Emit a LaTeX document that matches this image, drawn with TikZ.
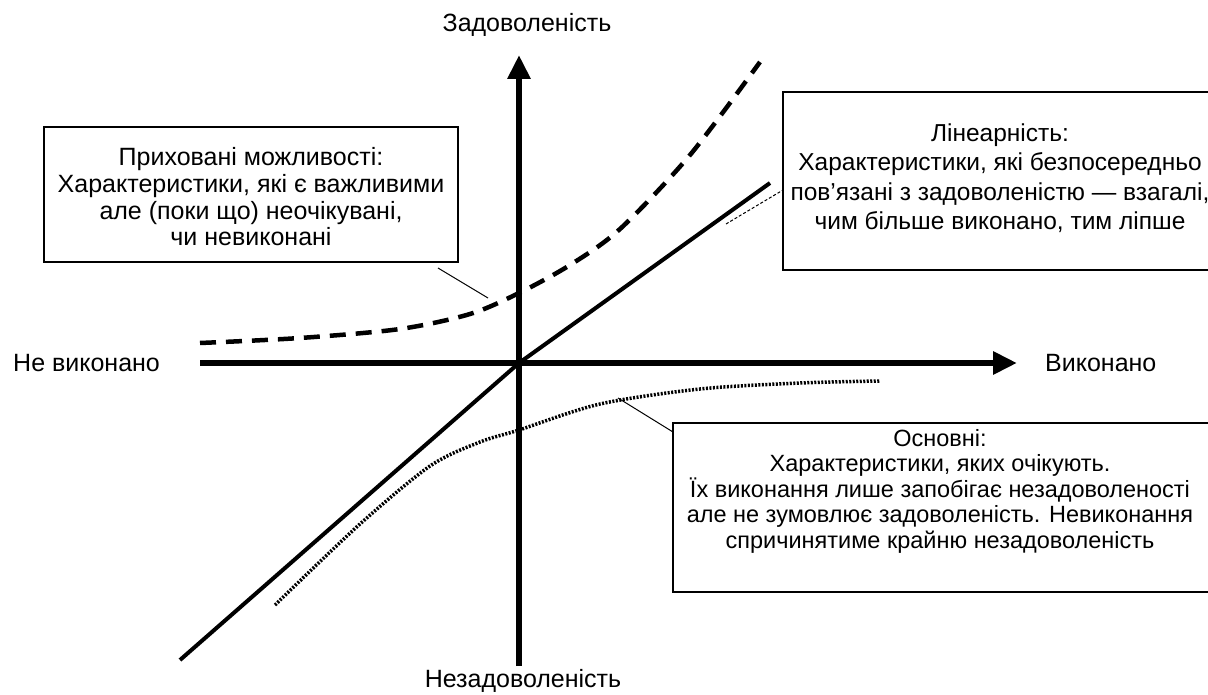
\documentclass[tikz,border=0pt]{standalone}
\usepackage{fontspec}
\setmainfont{Liberation Sans}
\usetikzlibrary{arrows.meta}
\begin{document}
\begin{tikzpicture}[x=1pt,y=-1pt,
  txt/.style={font=\fontsize{25}{27}\selectfont, inner sep=0pt},
  boxtext/.style={align=center, inner sep=0pt},
  boxframe/.style={draw, line width=1.5pt, inner sep=0pt},
  axisline/.style={line width=6pt, -{Triangle[length=24pt,width=22pt]}},
  solidline/.style={line width=4pt},
  dashline/.style={line width=4.5pt, dash pattern=on 16pt off 10pt},
  dotline/.style={line width=3.5pt, dash pattern=on 2pt off 1.5pt},
  leader/.style={line width=1pt}]
\useasboundingbox (0,0) rectangle (1208,695);

% axis labels
\node[txt] (top) at (527,25) {Задоволеність};
\node[txt] (bot) at (523,681) {Незадоволеність};
\node[txt, anchor=west] (left) at (13,363) {Не виконано};
\node[txt, anchor=west] (right) at (1045,363) {Виконано};

% boxes
\node[boxframe, minimum width=414pt, minimum height=135pt] (lbox) at (251,194.5) {};
\node[boxtext, font=\fontsize{25}{26.7}\selectfont] (ltext) at (251,197)
  {Приховані можливості:\\Характеристики, які є важливими\\але (поки що) неочікувані,\\чи невиконані};
\node[boxframe, minimum width=434pt, minimum height=178pt] (rbox) at (1000,181) {};
\node[boxtext, font=\fontsize{24.5}{29.5}\selectfont] (rtext) at (1000,178)
  {Лінеарність:\\Характеристики, які безпосередньо\\пов'язані з задоволеністю — взагалі,\\чим більше виконано, тим ліпше};
\node[boxframe, minimum width=540pt, minimum height=169pt] (bbox) at (943,507.5) {};
\node[boxtext, font=\fontsize{23.5}{25.5}\selectfont] (btext) at (940,491)
  {Основні:\\Характеристики, яких очікують.\\Їх виконання лише запобігає незадоволеності\\але не зумовлює задоволеність. Невиконання\\спричинятиме крайню незадоволеність};

% axes
\coordinate (O) at (519,363);
\coordinate (xl) at (200,363);
\coordinate (xr) at (1017,363);
\coordinate (yb) at (519,666);
\coordinate (yt) at (519,55);
\draw[axisline] (xl) -- (xr);
\draw[axisline] (yb) -- (yt);

% solid diagonal
\coordinate (s1) at (180,660);
\coordinate (s2) at (770,183);
\draw[solidline] (s1) -- (O) -- (s2);

% dashed curve
\draw[dashline] plot[smooth] coordinates {(200,343) (300,338) (400,329) (470,314) (519,293) (570,265) (620,229) (690,155) (760,62)};

% dotted curve
\draw[dotline] plot[smooth] coordinates {(275,605) (360,524) (430,466) (480,442) (519,430) (600,404) (700,389) (800,383) (880,381)};

% leaders
\coordinate (la) at (438,268);
\coordinate (lb) at (488,298);
\draw[leader] (la) -- (lb);
\coordinate (ra) at (726,224);
\coordinate (rb) at (783,190);
\draw[leader, densely dashed] (ra) -- (rb);
\coordinate (ba) at (618,398);
\coordinate (bb) at (673,432);
\draw[leader] (ba) -- (bb);
\end{tikzpicture}
\end{document}
